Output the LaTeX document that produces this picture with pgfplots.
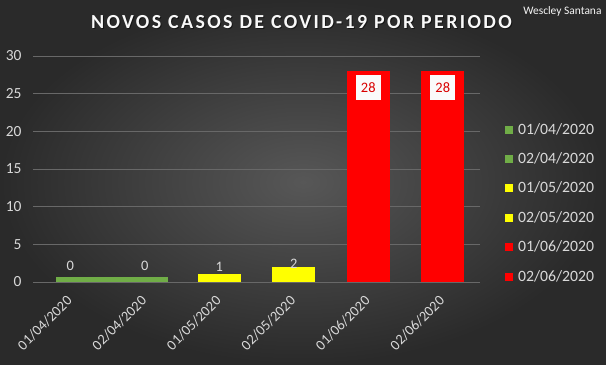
\documentclass[border=0pt]{standalone}
\usepackage{fontspec}
\setmainfont{Carlito}
\usepackage{pgfplots}
\pgfplotsset{compat=1.18}
\definecolor{bgin}{HTML}{575757}
\definecolor{bgout}{HTML}{2A2A2A}
\definecolor{txt}{HTML}{D9D9D9}
\definecolor{gridc}{HTML}{686868}
\definecolor{cgreen}{HTML}{70AD47}
\definecolor{cyellow}{HTML}{FFFF00}
\definecolor{cred}{HTML}{FF0000}
\begin{document}
\begin{tikzpicture}[x=1bp,y=1bp]
\useasboundingbox (0,0) rectangle (606,364);
\shade[inner color=bgin, outer color=bgout] (0,0) rectangle (606,364);
\node[font=\fontsize{20}{22}\selectfont\bfseries\addfontfeatures{LetterSpace=12}, text=black, opacity=0.5] at (302.5,341) {NOVOS CASOS DE COVID-19 POR PERIODO};
\node[font=\fontsize{20}{22}\selectfont\bfseries\addfontfeatures{LetterSpace=12}, text=white!95!gray] at (301.5,342) {NOVOS CASOS DE COVID-19 POR PERIODO};
\node[font=\fontsize{11.5}{13}\selectfont, text=white!92!gray, anchor=east] at (605,353) {Wescley Santana};
\begin{axis}[
  at={(33bp,82bp)}, anchor=south west, scale only axis,
  width=447bp, height=226bp,
  xmin=-0.5, xmax=5.5, ymin=0, ymax=30,
  ytick={0,5,...,30},
  xtick={0,...,5},
  xticklabels={01/04/2020,02/04/2020,01/05/2020,02/05/2020,01/06/2020,02/06/2020},
  ybar, bar width=43bp,
  axis line style={draw=none},
  ymajorgrids, grid style={gridc, line width=0.8bp},
  major tick length=0pt,
  /pgf/number format/assume math mode=true,
  tick label style={font=\fontsize{14.5}{16}\selectfont, text=txt},
  yticklabel style={font=\fontsize{15.5}{17}\selectfont, xshift=-8bp},
  xticklabel style={rotate=45, anchor=east, inner sep=0pt, yshift=-11bp, xshift=-12bp},
  legend style={draw=none, fill=none, at={(rel axis cs:1.049,0.704)}, anchor=north west,
    font=\fontsize{15.8}{17}\selectfont, text=txt,
    nodes={inner sep=0pt, text height=9bp, text depth=0bp},
    row sep=20.4bp, column sep=5bp},
  legend cell align=left,
  legend image code/.code={\fill[#1] (0bp,-4bp) rectangle (8bp,4bp);},
  nodes near coords style={font=\fontsize{14.5}{16}\selectfont, text=txt},
]
\addplot[fill=cgreen, draw=none, bar shift=14bp, bar width=56bp] coordinates {(0,0.6)};
\addlegendentry{01/04/2020}
\addplot[fill=cgreen, draw=none, bar shift=-5bp, bar width=56bp] coordinates {(1,0.6)};
\addlegendentry{02/04/2020}
\addplot[fill=cyellow, draw=none, bar shift=0pt, nodes near coords, nodes near coords style={anchor=south, yshift=-1bp}] coordinates {(2,1)};
\addlegendentry{01/05/2020}
\addplot[fill=cyellow, draw=none, bar shift=0pt, nodes near coords, nodes near coords style={anchor=south, yshift=-5bp}] coordinates {(3,2)};
\addlegendentry{02/05/2020}
\addplot[fill=cred, draw=none, bar shift=0pt, nodes near coords, nodes near coords style={anchor=north, yshift=-4bp, fill=white!96!gray, text=red!85!black, minimum width=25bp, minimum height=25bp, inner sep=0pt}] coordinates {(4,28)};
\addlegendentry{01/06/2020}
\addplot[fill=cred, draw=none, bar shift=0pt, nodes near coords, nodes near coords style={anchor=north, yshift=-4bp, fill=white!96!gray, text=red!85!black, minimum width=25bp, minimum height=25bp, inner sep=0pt}] coordinates {(5,28)};
\addlegendentry{02/06/2020}
\addplot[draw=none, fill=none, bar shift=0pt, forget plot, point meta=explicit, nodes near coords, nodes near coords style={anchor=south, yshift=3bp}] coordinates {(0,0.6) [0] (1,0.6) [0]};
\end{axis}
\end{tikzpicture}
\end{document}
